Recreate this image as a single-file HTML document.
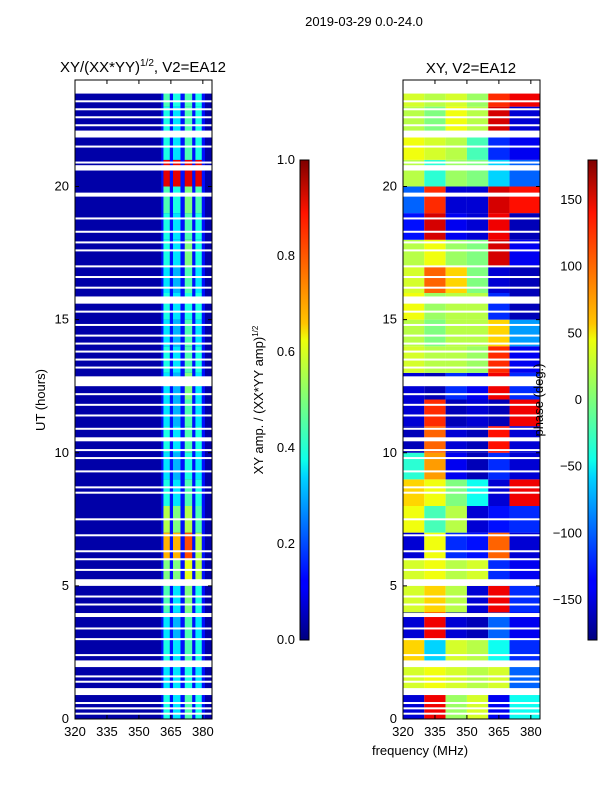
<!DOCTYPE html>
<html><head><meta charset="utf-8"><style>
body{margin:0;background:#fff;width:600px;height:800px;overflow:hidden}
svg{font-family:"Liberation Sans","DejaVu Sans",sans-serif}
</style></head><body>
<svg id="fig" width="600" height="800" xmlns="http://www.w3.org/2000/svg">
<defs>
<linearGradient id="jet" x1="0" y1="1" x2="0" y2="0">
<stop offset="0" stop-color="#00007f"/><stop offset="0.11" stop-color="#0000ff"/><stop offset="0.125" stop-color="#0000ff"/><stop offset="0.34" stop-color="#00d4ff"/><stop offset="0.375" stop-color="#0dffea"/><stop offset="0.5" stop-color="#7dff7a"/><stop offset="0.625" stop-color="#edff0a"/><stop offset="0.66" stop-color="#ffc400"/><stop offset="0.89" stop-color="#ff1300"/><stop offset="1" stop-color="#7f0000"/>
</linearGradient>
</defs>
<text x="364" y="26" font-size="13" text-anchor="middle">2019-03-29 0.0-24.0</text>
<text x="143" y="72" font-size="15" text-anchor="middle">XY/(XX*YY)<tspan font-size="10" dy="-6">1/2</tspan><tspan dy="6">, V2=EA12</tspan></text>
<text x="471" y="73" font-size="15" text-anchor="middle">XY, V2=EA12</text>
<g id="left"></g>
<g id="right"></g>
<g id="axes"></g>
<rect x="300" y="160" width="9" height="480" fill="url(#jet)" stroke="#000" stroke-width="1"/>
<rect x="588" y="160" width="9" height="480" fill="url(#jet)" stroke="#000" stroke-width="1"/>
<text transform="translate(263,400) rotate(-90)" font-size="13" text-anchor="middle">XY amp. / (XX*YY amp)<tspan font-size="8" dy="-5">1/2</tspan></text>
<text transform="translate(543,400) rotate(-90)" font-size="13" text-anchor="middle">phase (deg.)</text>
<text transform="translate(45,400) rotate(-90)" font-size="13" text-anchor="middle">UT (hours)</text>
<text x="420" y="755" font-size="13" text-anchor="middle">frequency (MHz)</text>
</svg>
<script>
const hourRows = [0,1,2,3,4,5,6,7,8,9,10,11,12,13,14,15,16,17,18,19,20,21,22,23];
const stripeFreqs = [[361.5,364.5],[366,369.5],[371.5,375],[376.5,379.5]];
const stripe1 = [0.4,0.35,0.4,0.35,0.45,0.5,0.7,0.55,0.4,0.35,0.4,0.35,0.35,0.4,0.35,0.4,0.35,0.4,0.4,0.45,0.9,0.4,0.4,0.45];
const stripe2 = [0.35,0.35,0.35,0.3,0.35,0.5,0.7,0.5,0.35,0.3,0.35,0.3,0.3,0.35,0.3,0.35,0.3,0.35,0.35,0.4,0.9,0.35,0.35,0.4];
const stripe3 = [0.45,0.4,0.45,0.45,0.5,0.6,0.8,0.55,0.45,0.4,0.45,0.45,0.5,0.45,0.45,0.4,0.45,0.5,0.45,0.5,0.9,0.45,0.45,0.45];
const stripe4 = [0.4,0.35,0.4,0.35,0.4,0.55,0.55,0.45,0.4,0.35,0.4,0.35,0.35,0.4,0.35,0.4,0.35,0.4,0.4,0.45,0.9,0.4,0.4,0.4];
const bgAmp = 0.04;
const gapAmp = 0.14;
const phaseCols = [[320,330],[330,340],[340,350],[350,360],[360,370],[370,384.3]];
const phaseGrid = [
[-150,140,10,30,-140,-40],[30,40,30,20,30,-100],[60,-60,30,20,-40,-120],[-150,140,-150,-160,-100,-140],
[30,60,20,-150,140,-120],[30,40,20,30,-120,-140],[-150,40,-120,-130,100,-150],[40,-20,20,-150,-130,-120],
[60,40,0,-40,-150,140],[-30,80,-140,-160,-120,-150],[-160,100,-150,-160,130,-150],[-150,120,-160,-150,-160,140],
[-150,-160,-120,-140,140,-120],[30,20,20,10,120,-140],[20,0,20,20,60,-80],[40,10,20,20,-120,-160],
[30,100,60,0,-150,-160],[20,40,10,0,150,-140],[-130,150,-140,-150,140,-160],[-100,120,-150,-150,150,130],
[20,-30,10,0,-60,-100],[40,30,20,-20,-120,-140],[20,0,40,20,150,-150],[30,20,30,10,120,140]];
const flagBands = [[23.49,24],[21.84,22.1],[20.6,20.8],[19.62,19.77],[15.6,15.87],[12.5,12.87],[10.43,10.58],[5.0,5.25],[3.83,3.98],[1.95,2.2],[0.9,1.16]];
const flagLines = [23.2,22.9,22.6,22.3,21.5,20.9,18.8,18.3,17.9,17.6,17.0,16.6,16.2,15.3,14.8,14.4,14.1,13.8,13.5,13.2,12.2,11.8,11.4,10.9,10.1,9.8,9.3,8.7,8.5,7.5,6.9,6.3,6.0,5.6,4.6,4.3,3.4,3.0,2.4,1.6,1.4,0.6,0.4,0.2];
const xTicks = [320,335,350,365,380];
const yTicks = [0,5,10,15,20];
const ampTicks = [0.0,0.2,0.4,0.6,0.8,1.0];
const phaseTicks = [-150,-100,-50,0,50,100,150];

const NS='http://www.w3.org/2000/svg';
const Y0=719, Y1=80, HMAX=24;
const yS=h=>Y0-(h/HMAX)*(Y0-Y1);
const F0=320,F1=384.3;
const xL=f=>75+(f-F0)/(F1-F0)*137;
const xR=f=>403+(f-F0)/(F1-F0)*137;
function jet(v){v=Math.max(0,Math.min(1,v));
 const r=Math.min(Math.max(Math.min(4*v-1.5,-4*v+4.5),0),1);
 const g=Math.min(Math.max(Math.min(4*v-0.5,-4*v+3.5),0),1);
 const b=Math.min(Math.max(Math.min(4*v+0.5,-4*v+2.5),0),1);
 return `rgb(${Math.round(r*255)},${Math.round(g*255)},${Math.round(b*255)})`;}
function rect(p,x,y,w,h,fill){const r=document.createElementNS(NS,'rect');
 r.setAttribute('x',x);r.setAttribute('y',y);r.setAttribute('width',w);r.setAttribute('height',h);r.setAttribute('fill',fill);
 p.appendChild(r);return r;}
const L=document.getElementById('left'), R=document.getElementById('right'), A=document.getElementById('axes');
let bg=rect(L,xL(F0),yS(24),xL(F1)-xL(F0),yS(0)-yS(24),jet(bgAmp));


[[360.5,361.5],[364.5,366],[369.5,371.5],[375,376.5],[379.5,381]].forEach(g=>{
 const c=rect(L,xL(g[0]),yS(24),xL(g[1])-xL(g[0]),yS(0)-yS(24),jet(gapAmp));
 
 
});
const stripes=[stripe1,stripe2,stripe3,stripe4];
stripes.forEach((s,si)=>{
 hourRows.forEach((h,i)=>{
  const c=rect(L,xL(stripeFreqs[si][0]),yS(h+1),xL(stripeFreqs[si][1])-xL(stripeFreqs[si][0]),yS(h)-yS(h+1),jet(s[i]));
  
  
 });
});
hourRows.forEach((h,i)=>{
 phaseCols.forEach((fc,j)=>{
  const c=rect(R,xR(fc[0]),yS(h+1),xR(fc[1])-xR(fc[0]),yS(h)-yS(h+1),jet((phaseGrid[i][j]+180)/360));
  
  
 });
});
[[L,xL],[R,xR]].forEach(([g,xf])=>{
 flagBands.forEach(b=>{const c=rect(g,xf(F0),yS(b[1]),xf(F1)-xf(F0),yS(b[0])-yS(b[1]),'#fff');
  
  });
 flagLines.forEach(h=>{const c=rect(g,xf(F0),yS(h)-1,xf(F1)-xf(F0),2,'#fff');
  
  });
});
function line(x1,y1,x2,y2){const l=document.createElementNS(NS,'line');
 l.setAttribute('x1',x1);l.setAttribute('y1',y1);l.setAttribute('x2',x2);l.setAttribute('y2',y2);l.setAttribute('stroke','#000');A.appendChild(l);return l;}
function text(x,y,s,anchor,name){const t=document.createElementNS(NS,'text');
 t.setAttribute('x',x);t.setAttribute('y',y);t.setAttribute('font-size','13');t.setAttribute('text-anchor',anchor);t.textContent=s;
 
 
 A.appendChild(t);}
[[75,xL,'left'],[403,xR,'right']].forEach(([x0,xf,nm])=>{
 const fr=document.createElementNS(NS,'rect');
 fr.setAttribute('x',x0);fr.setAttribute('y',Y1);fr.setAttribute('width',137);fr.setAttribute('height',Y0-Y1);
 fr.setAttribute('fill','none');fr.setAttribute('stroke','#000');
 
 
 A.appendChild(fr);
 xTicks.forEach(f=>{const x=xf(f);line(x,Y0,x,Y0-4);line(x,Y1,x,Y1+4);text(x,736,String(f),'middle','x-tick-label');});
 yTicks.forEach(h=>{const y=yS(h);line(x0,y,x0+4,y);line(x0+137,y,x0+133,y);text(x0-6,y+4,String(h),'end','y-tick-label');});
});
ampTicks.forEach(v=>{const y=640-v*480;line(300,y,303,y);line(309,y,306,y);text(295,y+4,v.toFixed(1),'end','amplitude-colorbar-tick');});
phaseTicks.forEach(v=>{const y=640-(v+180)/360*480;line(588,y,591,y);line(597,y,594,y);text(582,y+4,String(v).replace('-','\u2212'),'end','phase-colorbar-tick');});
</script>
</body></html>
